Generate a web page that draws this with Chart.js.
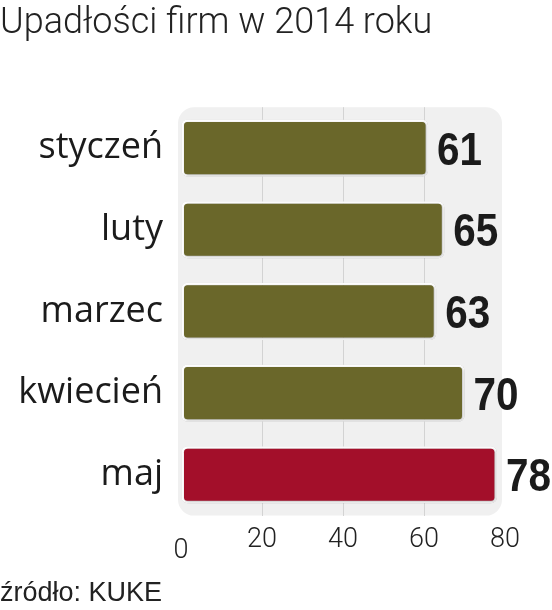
<!DOCTYPE html>
<html>
<head>
<meta charset="utf-8">
<script src="https://cdn.jsdelivr.net/npm/chart.js@4.4.1/dist/chart.umd.min.js"></script>
<style>
  html, body { margin: 0; padding: 0; background: #fff; }
  #wrap { width: 552px; height: 610px; }
</style>
</head>
<body>
<div id="wrap"><canvas id="bars"></canvas></div>
<script>
var months = ['styczeń', 'luty', 'marzec', 'kwiecień', 'maj'];
var bankruptcies = [61, 65, 63, 70, 78];
var barColors = ['#6a672a', '#6a672a', '#6a672a', '#6a672a', '#a30f2a'];
var xTicks = [0, 20, 40, 60, 80];

// light grey rounded panel behind the bars, shadowed bars, value labels
var panel = {
    id: 'panel',
    beforeDraw: function (chart) {
        var c = chart.ctx, a = chart.chartArea;
        c.save();
        c.fillStyle = '#f0f0f0';
        c.beginPath();
        c.roundRect(a.left - 3, a.top, a.right - a.left, a.bottom - a.top, 16);
        c.fill();
        c.restore();
    },
    beforeDatasetsDraw: function (chart) {
        var c = chart.ctx;
        c.save();
        c.shadowColor = 'rgba(0,0,0,0.28)';
        c.shadowBlur = 3;
        c.shadowOffsetX = 1;
        c.shadowOffsetY = 1;
    },
    afterDatasetsDraw: function (chart) {
        var c = chart.ctx;
        c.restore();
        var meta = chart.getDatasetMeta(0);
        meta.data.forEach(function (bar, i) {
            c.save();
            c.translate(bar.x + 9, bar.y + 16.5);
            c.scale(0.88, 1);
            c.fillStyle = '#1b1b1b';
            c.font = 'bold 46px "Liberation Sans", Arial, sans-serif';
            c.textAlign = 'left';
            c.textBaseline = 'alphabetic';
            c.fillText(String(bankruptcies[i]), 0, 0);
            c.restore();
        });
    }
};

var ctx = document.getElementById('bars').getContext('2d');
var chart = new Chart(ctx, {
    type: 'bar',
    data: {
        labels: months,
        datasets: [{
            data: bankruptcies,
            backgroundColor: barColors,
            borderColor: '#ffffff',
            borderWidth: 2.5,
            borderRadius: 6,
            borderSkipped: false,
            barPercentage: 0.7,
            categoryPercentage: 1
        }]
    },
    options: {
        indexAxis: 'y',
        responsive: true,
        maintainAspectRatio: false,
        animation: false,
        layout: { padding: { left: 0, right: 47, top: 0, bottom: 0 } },
        plugins: {
            legend: { display: false },
            tooltip: { enabled: false },
            title: {
                display: true,
                text: 'Upadłości firm w 2014 roku',
                align: 'start',
                color: '#222',
                font: { family: 'Roboto', weight: 300, size: 36 },
                padding: { top: 2, bottom: 62 }
            },
            subtitle: {
                display: true,
                position: 'bottom',
                text: 'źródło: KUKE',
                align: 'start',
                color: '#222',
                font: { family: 'Liberation Sans', size: 27 },
                padding: { top: 0, bottom: 0 }
            }
        },
        scales: {
            x: {
                min: 0,
                max: 80,
                afterBuildTicks: function (s) {
                    s.ticks = xTicks.map(function (v) { return { value: v }; });
                },
                afterFit: function (s) { s.height = 62; },
                border: { display: false },
                grid: {
                    drawTicks: false,
                    color: function (c) {
                        return (c.tick && (c.tick.value === 0 || c.tick.value === 80)) ? 'rgba(0,0,0,0)' : '#d3d3d3';
                    }
                },
                ticks: {
                    padding: 8,
                    color: '#222',
                    font: function (c) {
                        return { family: 'Roboto', weight: 300, size: 27, lineHeight: c.index === 0 ? 0.68 : 1.2 };
                    },
                    callback: function (v) { return v === 0 ? ['', '0'] : String(v); }
                }
            },
            y: {
                afterFit: function (s) { s.width = 181; },
                border: { display: false },
                grid: { display: false, drawTicks: false },
                ticks: {
                    padding: 18,
                    color: '#1b1b1b',
                    font: { family: 'Open Sans', size: 36 }
                }
            }
        }
    },
    plugins: [panel]
});
</script>
</body>
</html>
